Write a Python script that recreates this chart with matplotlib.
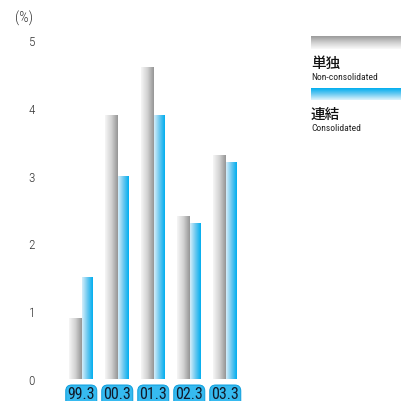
import numpy as np
import matplotlib
matplotlib.use("Agg")
import matplotlib.pyplot as plt
from matplotlib.colors import LinearSegmentedColormap
from matplotlib.patches import FancyBboxPatch
from matplotlib.transforms import IdentityTransform

periods = ["99.3", "00.3", "01.3", "02.3", "03.3"]
non_consolidated = [0.9, 3.9, 4.6, 2.4, 3.3]
consolidated = [1.5, 3.0, 3.9, 2.3, 3.2]
yticks = [0, 1, 2, 3, 4, 5]

plt.rcParams['font.family'] = ['Roboto Condensed', 'Noto Sans CJK JP', 'DejaVu Sans']

W = H = 402
fig = plt.figure(figsize=(4.02, 4.02), dpi=100)

def px_axes(x0, y0, x1, y1):
    return [x0 / W, 1 - y1 / H, (x1 - x0) / W, (y1 - y0) / H]

ax = fig.add_axes(px_axes(60, 41, 250, 380))
ax.patch.set_visible(False)
ax.set_xlim(-0.611, 4.667)
ax.set_ylim(0, 5)
for s in ax.spines.values():
    s.set_visible(False)
ax.set_xticks([])
ax.set_yticks(yticks)
ax.set_yticklabels([str(t) for t in yticks], fontsize=9.5, color="#333333", fontweight="light")
ax.tick_params(axis='y', length=0, pad=18)

gray_cmap = LinearSegmentedColormap.from_list("g", ["#f6f6f6", "#d2d2d2", "#959595"])
blue_cmap = LinearSegmentedColormap.from_list("b", ["#d6eefa", "#6cc8f0", "#00aeef"])
grad = np.linspace(0, 1, 64).reshape(1, -1)

x = np.arange(len(periods))
wg, wb = 0.36, 0.30
bars_g = ax.bar(x - wg / 2, non_consolidated, width=wg, color="none", edgecolor="none")
bars_b = ax.bar(x + wb / 2, consolidated, width=wb, color="none", edgecolor="none")
for bars, cmap in ((bars_g, gray_cmap), (bars_b, blue_cmap)):
    for b in bars:
        x0, y0 = b.get_x(), b.get_y()
        im = ax.imshow(grad, cmap=cmap, aspect="auto",
                       extent=[x0, x0 + b.get_width(), y0, y0 + b.get_height()],
                       interpolation="bicubic", zorder=2)
        im.set_clip_path(b)
ax.set_xlim(-0.611, 4.667)
ax.set_ylim(0, 5)

# category label boxes (positions from the axis scale)
for xi, lab in zip(x, periods):
    cx_disp = ax.transData.transform((xi - 0.02, 0))[0]
    box = FancyBboxPatch((cx_disp - 15.5, -6), 31, 22,
                         boxstyle="round,pad=0,rounding_size=6",
                         fc="#36baf0", ec="#0a9ddc", lw=0.7,
                         transform=IdentityTransform(), clip_on=False, zorder=-5)
    fig.patches.append(box)
    ax.text(xi - 0.02, -0.215, lab, ha="center", va="center", fontsize=11.5,
            color="#111a2a", clip_on=False, zorder=5)

fig.text(24 / W, 1 - 18 / H, "(%)", ha="center", va="center", fontsize=10.5, color="#333333",
         fontweight="light")

# legend
lg = fig.add_axes(px_axes(311, 37, 402, 50))
lg.axis("off")
vg = np.linspace(0, 1, 64).reshape(-1, 1)
lg.imshow(vg, cmap=LinearSegmentedColormap.from_list("lg", ["#9a9a9a", "#d0d0d0", "#fafafa"]),
          aspect="auto", interpolation="bicubic")
lb = fig.add_axes(px_axes(311, 89, 402, 101))
lb.axis("off")
lb.imshow(vg, cmap=LinearSegmentedColormap.from_list("lb", ["#00aeef", "#6ccbf2", "#e0f4fc"]),
          aspect="auto", interpolation="bicubic")

fig.text(311 / W, 1 - 64 / H, "単独", ha="left", va="center", fontsize=10.5,
         family=['Noto Sans CJK JP'], fontweight="medium", color="#111111")
fig.text(311 / W, 1 - 78 / H, "Non-consolidated", ha="left", va="center", fontsize=6.8, color="#222222")
fig.text(311 / W, 1 - 115 / H, "連結", ha="left", va="center", fontsize=10.5,
         family=['Noto Sans CJK JP'], fontweight="medium", color="#111111")
fig.text(311 / W, 1 - 129 / H, "Consolidated", ha="left", va="center", fontsize=6.8, color="#222222")

fig.savefig("out.png", dpi=100)
